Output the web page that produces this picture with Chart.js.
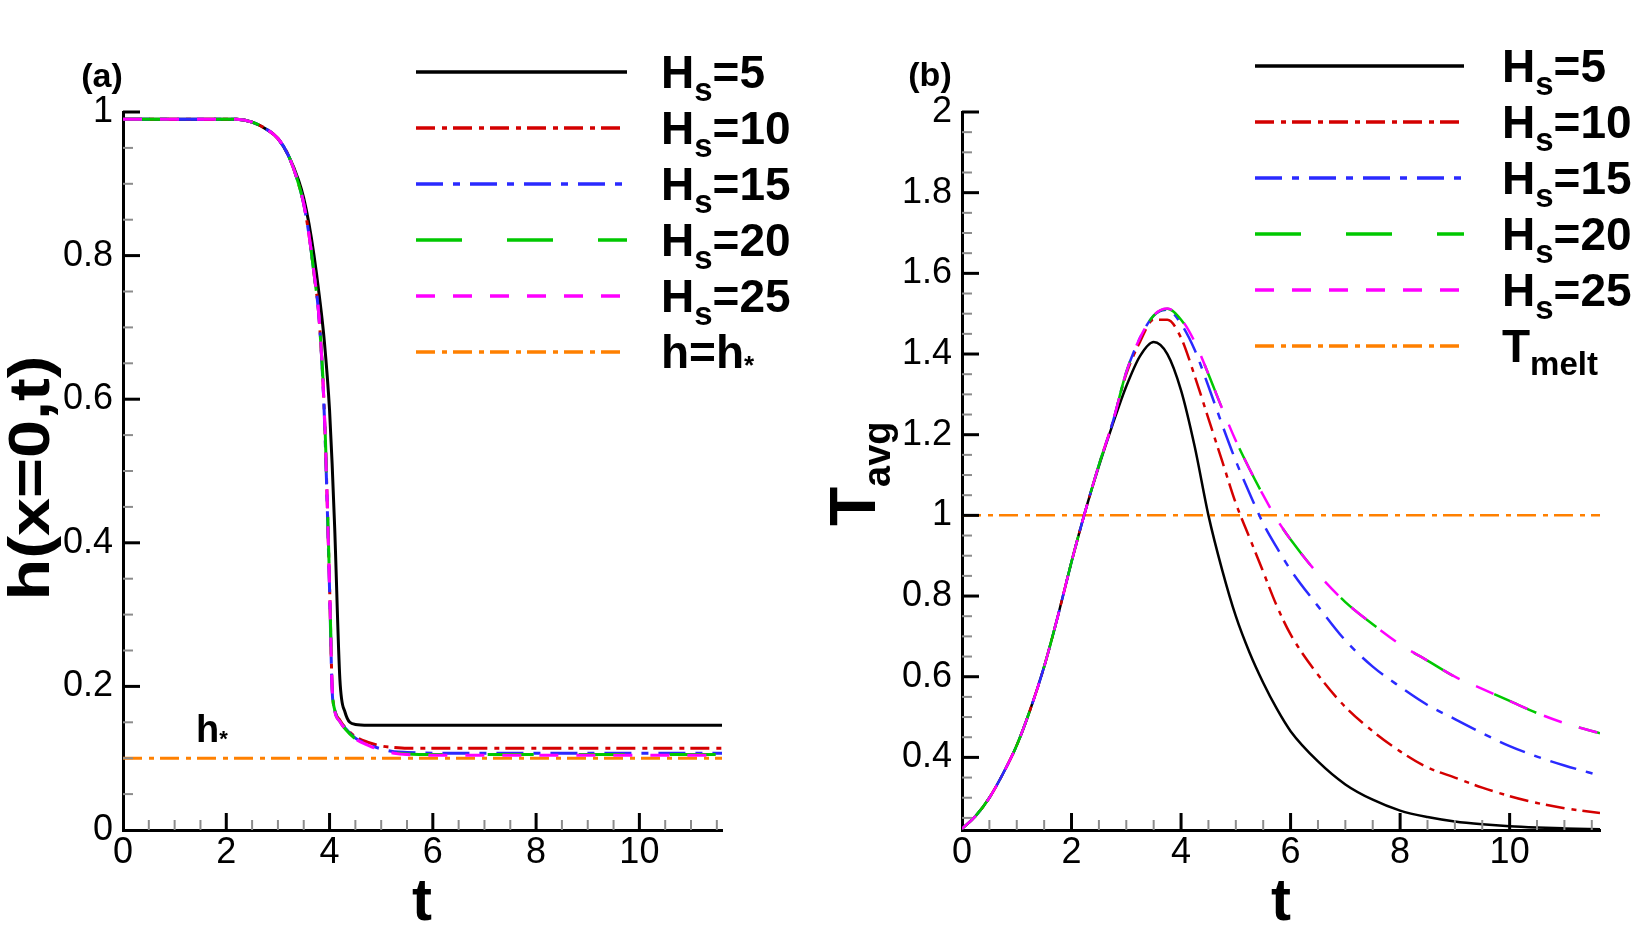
<!DOCTYPE html>
<html>
<head>
<meta charset="utf-8">
<script src="https://cdn.jsdelivr.net/npm/chart.js@4.4.0/dist/chart.umd.min.js"></script>
<style>
  html, body { margin: 0; padding: 0; background: #fff; }
  #wrap { position: relative; width: 1642px; height: 934px; overflow: hidden; }
  .panel { position: absolute; top: 0; width: 821px; height: 934px; }
  #pa { left: 0; }
  #pb { left: 821px; }
</style>
</head>
<body>
<div id="wrap">
  <div class="panel" id="pa"><canvas id="chartA"></canvas></div>
  <div class="panel" id="pb"><canvas id="chartB"></canvas></div>
</div>
<script>
// ---- panel (a): h(x=0,t) ----
const tA = [0, 1, 2, 2.2, 2.5, 2.8, 3.0, 3.2, 3.4, 3.5, 3.6, 3.7, 3.8, 3.9, 4.0, 4.05, 4.1, 4.2, 4.3, 4.5, 4.75, 5.0, 5.25, 5.5, 6, 8, 10, 11.6];
const hHs5  = [0.99, 0.99, 0.99, 0.99, 0.986, 0.975, 0.963, 0.94, 0.905, 0.88, 0.845, 0.80, 0.745, 0.68, 0.585, 0.51, 0.42, 0.21, 0.164, 0.147, 0.146, 0.146, 0.146, 0.146, 0.146, 0.146, 0.146, 0.146];
const hHs10 = [0.99, 0.99, 0.99, 0.99, 0.986, 0.975, 0.963, 0.94, 0.90, 0.872, 0.83, 0.775, 0.71, 0.58, 0.34, 0.20, 0.168, 0.153, 0.143, 0.13, 0.122, 0.117, 0.115, 0.114, 0.114, 0.114, 0.114, 0.114];
const hHs15 = [0.99, 0.99, 0.99, 0.99, 0.986, 0.975, 0.963, 0.94, 0.90, 0.872, 0.83, 0.775, 0.71, 0.575, 0.335, 0.195, 0.167, 0.152, 0.142, 0.128, 0.119, 0.113, 0.109, 0.108, 0.107, 0.107, 0.107, 0.107];
const hHs20 = [0.99, 0.99, 0.99, 0.99, 0.986, 0.975, 0.963, 0.94, 0.90, 0.872, 0.83, 0.775, 0.71, 0.585, 0.345, 0.20, 0.167, 0.151, 0.141, 0.127, 0.118, 0.112, 0.108, 0.106, 0.105, 0.105, 0.105, 0.105];
const hHs25 = [0.99, 0.99, 0.99, 0.99, 0.986, 0.975, 0.963, 0.94, 0.90, 0.872, 0.83, 0.775, 0.71, 0.58, 0.34, 0.198, 0.166, 0.151, 0.141, 0.127, 0.118, 0.111, 0.107, 0.105, 0.104, 0.104, 0.104, 0.104];
const hStarT = [0, 11.6];
const hStar  = [0.1, 0.1];

// ---- panel (b): T_avg ----
const tB = [0, 0.25, 0.5, 0.75, 1, 1.25, 1.5, 1.75, 2, 2.25, 2.5, 2.75, 3, 3.25, 3.5, 3.75, 4, 4.25, 4.5, 4.75, 5, 5.25, 5.5, 5.75, 6, 6.5, 7, 7.5, 8, 8.5, 9, 9.5, 10, 10.5, 11, 11.65];
const THs5  = [0.223, 0.255, 0.30, 0.36, 0.43, 0.52, 0.625, 0.75, 0.885, 1.01, 1.122, 1.225, 1.32, 1.395, 1.43, 1.40, 1.31, 1.17, 1.00, 0.865, 0.75, 0.66, 0.585, 0.52, 0.465, 0.39, 0.333, 0.295, 0.268, 0.252, 0.241, 0.234, 0.229, 0.226, 0.224, 0.222];
const THs10 = [0.223, 0.255, 0.30, 0.36, 0.43, 0.52, 0.625, 0.75, 0.885, 1.01, 1.125, 1.23, 1.35, 1.43, 1.485, 1.485, 1.44, 1.345, 1.24, 1.135, 1.03, 0.945, 0.86, 0.775, 0.705, 0.605, 0.525, 0.465, 0.415, 0.375, 0.35, 0.325, 0.304, 0.287, 0.274, 0.262];
const THs15 = [0.223, 0.255, 0.30, 0.36, 0.43, 0.52, 0.625, 0.75, 0.885, 1.01, 1.125, 1.23, 1.355, 1.44, 1.495, 1.51, 1.475, 1.41, 1.32, 1.225, 1.135, 1.055, 0.98, 0.92, 0.865, 0.775, 0.69, 0.625, 0.575, 0.53, 0.495, 0.46, 0.428, 0.402, 0.38, 0.355];
const THs20 = [0.223, 0.255, 0.30, 0.36, 0.43, 0.52, 0.625, 0.75, 0.885, 1.01, 1.125, 1.23, 1.355, 1.44, 1.495, 1.512, 1.485, 1.43, 1.35, 1.265, 1.185, 1.115, 1.05, 0.99, 0.94, 0.855, 0.785, 0.73, 0.68, 0.64, 0.60, 0.57, 0.54, 0.51, 0.485, 0.46];
const THs25 = [0.223, 0.255, 0.30, 0.36, 0.43, 0.52, 0.625, 0.75, 0.885, 1.01, 1.125, 1.23, 1.355, 1.44, 1.496, 1.513, 1.487, 1.43, 1.35, 1.265, 1.185, 1.115, 1.05, 0.99, 0.94, 0.855, 0.785, 0.73, 0.68, 0.64, 0.60, 0.57, 0.54, 0.51, 0.485, 0.46];
const tMeltT = [0, 11.65];
const tMelt  = [1, 1];

// ---- ticks ----
const xTicks  = [0, 2, 4, 6, 8, 10];
const yTicksA = [0, 0.2, 0.4, 0.6, 0.8, 1];
const yTicksB = [0.4, 0.6, 0.8, 1, 1.2, 1.4, 1.6, 1.8, 2];

// ---- styles ----
const FONT = '"Liberation Sans", Arial, Helvetica, sans-serif';
const styles = [
  { color: '#000000', dash: [],              order: 4 },
  { color: '#d40000', dash: [19, 7, 5, 6],   order: 3 },
  { color: '#2a2aff', dash: [27, 10, 7, 10], order: 2 },
  { color: '#00c800', dash: [46, 45],        order: 1 },
  { color: '#ff00ff', dash: [19, 18],        order: 0 },
  { color: '#ff8000', dash: [19, 7, 5, 6],   order: 5 },
];
const hsNames = ['5', '10', '15', '20', '25'];

function pts(xs, ys) { return xs.map((x, i) => ({ x: x, y: ys[i] })); }

function mkSet(i, data, width) {
  const s = styles[i];
  return {
    data: data, borderColor: s.color, borderDash: s.dash, borderWidth: width,
    pointRadius: 0, fill: false, cubicInterpolationMode: 'monotone', order: s.order
  };
}

// rich text: segments [text, size, dy]
function rich(ctx, x, y, segs) {
  ctx.textAlign = 'left';
  ctx.textBaseline = 'alphabetic';
  for (const [txt, size, dy] of segs) {
    ctx.font = 'bold ' + size + 'px ' + FONT;
    ctx.fillText(txt, x, y + dy);
    x += ctx.measureText(txt).width;
  }
}

function drawLegend(ctx, x0, x1, tx, rows, lastLabel) {
  for (let i = 0; i < 6; i++) {
    const s = styles[i], y = rows[i];
    ctx.save();
    ctx.strokeStyle = s.color;
    ctx.lineWidth = 3.5;
    ctx.setLineDash(s.dash);
    ctx.beginPath();
    ctx.moveTo(x0, y);
    ctx.lineTo(x1, y);
    ctx.stroke();
    ctx.restore();
    ctx.fillStyle = '#000';
    if (i < 5) rich(ctx, tx, y + 16, [['H', 46, 0], ['s', 33, 13], ['=' + hsNames[i], 46, 0]]);
    else rich(ctx, tx, y + 16, lastLabel);
  }
}

function drawTicks(chart, xMax, yMin, yMax) {
  const { ctx, chartArea: a, scales: { x, y } } = chart;
  ctx.save();
  ctx.setLineDash([]);
  // x ticks, every 0.5, majors every 2
  for (let i = 1; i * 0.5 <= xMax + 1e-9; i++) {
    const v = i * 0.5, major = i % 4 === 0;
    const px = x.getPixelForValue(v);
    ctx.strokeStyle = major ? '#000' : '#8c8c8c';
    ctx.lineWidth = major ? 3 : 2;
    ctx.beginPath();
    ctx.moveTo(px, a.bottom);
    ctx.lineTo(px, a.bottom - (major ? 17 : 10));
    ctx.stroke();
  }
  // y ticks, every 0.05, majors every 0.2
  for (let i = 0; i * 0.05 <= yMax + 1e-9; i++) {
    const v = i * 0.05;
    if (v < yMin + 1e-9) continue;
    const major = i % 4 === 0;
    const py = y.getPixelForValue(v);
    ctx.strokeStyle = major ? '#000' : '#8c8c8c';
    ctx.lineWidth = major ? 3 : 2;
    ctx.beginPath();
    ctx.moveTo(a.left, py);
    ctx.lineTo(a.left + (major ? 17 : 10), py);
    ctx.stroke();
  }
  ctx.restore();
}

function axisOpts(min, max, ticksArr, fitKey, fitVal, pad) {
  return {
    type: 'linear', min: min, max: max,
    grid: { display: false, drawTicks: false },
    border: { display: true, color: '#000', width: 3 },
    ticks: { color: '#000', padding: pad, font: { family: FONT, size: 36 }, callback: v => String(v) },
    afterBuildTicks: s => { s.ticks = ticksArr.map(v => ({ value: v })); },
    afterFit: s => { s[fitKey] = fitVal; }
  };
}

Chart.defaults.font.family = FONT;

// ---- chart (a) ----
new Chart(document.getElementById('chartA'), {
  type: 'line',
  data: {
    datasets: [
      mkSet(0, pts(tA, hHs5), 3),
      mkSet(1, pts(tA, hHs10), 3),
      mkSet(2, pts(tA, hHs15), 3),
      mkSet(3, pts(tA, hHs20), 3),
      mkSet(4, pts(tA, hHs25), 3),
      mkSet(5, pts(hStarT, hStar), 3),
    ]
  },
  options: {
    responsive: true, maintainAspectRatio: false, animation: false,
    layout: { padding: { top: 112, right: 99, left: 0, bottom: 0 } },
    plugins: { legend: { display: false }, tooltip: { enabled: false } },
    scales: {
      x: axisOpts(0, 11.6, xTicks, 'height', 104, 1),
      y: axisOpts(0, 1, yTicksA, 'width', 123, 10)
    }
  },
  plugins: [{
    id: 'decorA',
    afterDraw(chart) {
      const ctx = chart.ctx;
      drawTicks(chart, 11.6, 0, 1);
      ctx.save();
      ctx.fillStyle = '#000';
      ctx.font = 'bold 34px ' + FONT;
      ctx.textAlign = 'center'; ctx.textBaseline = 'middle';
      ctx.fillText('(a)', 102, 78);
      ctx.font = 'bold 60px ' + FONT;
      ctx.textBaseline = 'alphabetic';
      ctx.fillText('t', 422, 920);
      ctx.save();
      ctx.translate(33, 478);
      ctx.rotate(-Math.PI / 2);
      ctx.scale(1.2, 1);
      ctx.font = 'bold 57px ' + FONT;
      ctx.textBaseline = 'middle';
      ctx.fillText('h(x=0,t)', 0, 0);
      ctx.restore();
      rich(ctx, 196, 742, [['h', 38, 0], ['*', 22, 4]]);
      drawLegend(ctx, 416, 627, 661, [72, 128, 184, 240, 296, 352], [['h=h', 46, 0], ['*', 26, 6]]);
      ctx.restore();
    }
  }]
});

// ---- chart (b) ----
new Chart(document.getElementById('chartB'), {
  type: 'line',
  data: {
    datasets: [
      mkSet(0, pts(tB, THs5), 2.5),
      mkSet(1, pts(tB, THs10), 2.5),
      mkSet(2, pts(tB, THs15), 2.5),
      mkSet(3, pts(tB, THs20), 2.5),
      mkSet(4, pts(tB, THs25), 2.5),
      mkSet(5, pts(tMeltT, tMelt), 2.5),
    ]
  },
  options: {
    responsive: true, maintainAspectRatio: false, animation: false,
    layout: { padding: { top: 112, right: 42, left: 0, bottom: 0 } },
    plugins: { legend: { display: false }, tooltip: { enabled: false } },
    scales: {
      x: axisOpts(0, 11.65, xTicks, 'height', 104, 1),
      y: axisOpts(0.22, 2, yTicksB, 'width', 141, 10)
    }
  },
  plugins: [{
    id: 'decorB',
    afterDraw(chart) {
      const ctx = chart.ctx;
      drawTicks(chart, 11.65, 0.22, 2);
      ctx.save();
      ctx.fillStyle = '#000';
      ctx.font = 'bold 34px ' + FONT;
      ctx.textAlign = 'center'; ctx.textBaseline = 'middle';
      ctx.fillText('(b)', 109, 77);
      ctx.font = 'bold 60px ' + FONT;
      ctx.textBaseline = 'alphabetic';
      ctx.fillText('t', 460, 920);
      ctx.save();
      ctx.translate(54, 526);
      ctx.rotate(-Math.PI / 2);
      rich(ctx, 0, 0, [['T', 64, 0], ['avg', 38, 15]]);
      ctx.restore();
      drawLegend(ctx, 434, 643, 681, [66, 122, 178, 234, 290, 346], [['T', 46, 0], ['melt', 33, 13]]);
      ctx.restore();
    }
  }]
});
</script>
</body>
</html>
